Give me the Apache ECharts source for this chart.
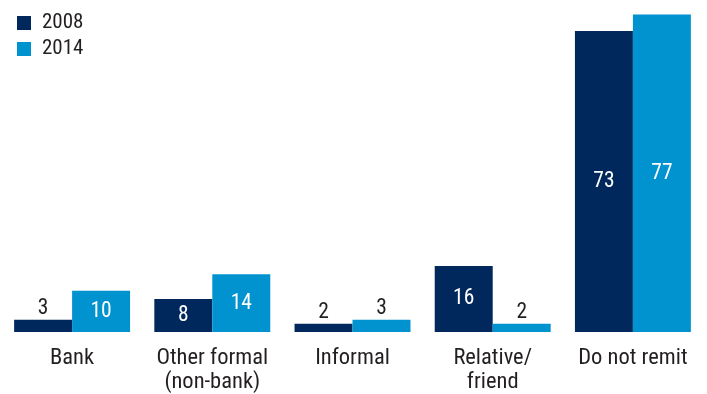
<!DOCTYPE html>
<html>
<head>
<meta charset="utf-8">
<script src="https://cdn.jsdelivr.net/npm/echarts@6/dist/echarts.min.js"></script>
<style>
  html, body { margin: 0; padding: 0; background: #fff; }
  #chart { width: 707px; height: 394px; }
</style>
</head>
<body>
<div id="chart"></div>
<script>
// Remittance channels, share of respondents (%)
const categories = ['Bank', 'Other formal\n(non-bank)', 'Informal', 'Relative/\nfriend', 'Do not remit'];
const values2008 = [3, 8, 2, 16, 73];
const values2014 = [10, 14, 3, 2, 77];
const seriesNames = ['2008', '2014'];

const FONT = '"Roboto Condensed", Roboto, Arial, sans-serif';
const TEXT = '#231f20';
const NAVY = '#00285d';
const BLUE = '#0093d0';
const INSIDE_MIN = 5; // values below this get their label above the bar

function toData(values) {
  return values.map(v => ({
    value: v,
    label: v < INSIDE_MIN
      ? { position: 'top', color: TEXT, distance: 0 }
      : { position: 'inside', color: '#fff', offset: [0, 0] }
  }));
}

const chart = echarts.init(document.getElementById('chart'), null, { renderer: 'canvas' });
chart.setOption({
  animation: false,
  textStyle: { fontFamily: FONT },
  legend: {
    orient: 'vertical',
    left: 12,
    top: 7,
    itemWidth: 14,
    itemHeight: 14,
    itemGap: 4,
    icon: 'rect',
    textStyle: { fontFamily: FONT, fontSize: 21, lineHeight: 22, color: TEXT, padding: [0, 0, 0, 6] },
    data: seriesNames
  },
  grid: { left: 2, right: 4, top: 2, bottom: 58, containLabel: false },
  xAxis: {
    type: 'category',
    data: categories,
    axisLine: { show: false },
    axisTick: { show: false },
    axisLabel: {
      interval: 0,
      margin: 14,
      fontFamily: FONT,
      fontSize: 22.5,
      lineHeight: 24,
      color: TEXT
    }
  },
  yAxis: {
    type: 'value',
    min: 0,
    max: 80,
    show: false,
    splitLine: { show: false }
  },
  series: [
    {
      name: seriesNames[0],
      type: 'bar',
      data: toData(values2008),
      itemStyle: { color: NAVY },
      barGap: '0%',
      barCategoryGap: '17.3%',
      label: { show: true, fontFamily: FONT, fontSize: 21.5 }
    },
    {
      name: seriesNames[1],
      type: 'bar',
      data: toData(values2014),
      itemStyle: { color: BLUE },
      barGap: '0%',
      barCategoryGap: '17.3%',
      label: { show: true, fontFamily: FONT, fontSize: 21.5 }
    }
  ]
});
</script>
</body>
</html>
